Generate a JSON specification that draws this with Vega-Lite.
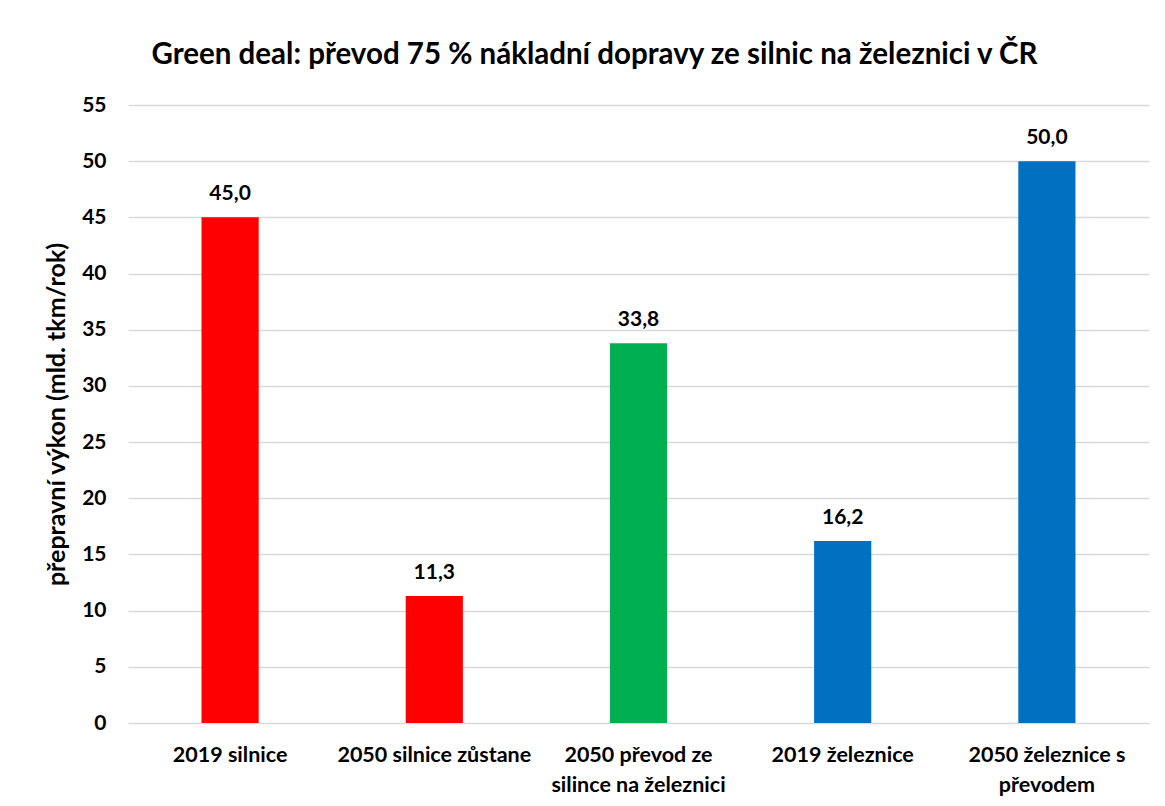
{
  "$schema": "https://vega.github.io/schema/vega-lite/v6.json",
  "autosize": "none",
  "width": 1021,
  "height": 618,
  "padding": {"left": 128, "top": 105, "right": 16, "bottom": 83},
  "background": "white",
  "title": {
    "text": "Green deal: převod 75 % nákladní dopravy ze silnic na železnici v ČR",
    "font": "Lato",
    "fontSize": 29.5,
    "fontWeight": "bold",
    "color": "#000000",
    "anchor": "middle",
    "dx": -44,
    "offset": 24
  },
  "data": {
    "values": [
      {"kategorie": "2019 silnice", "hodnota": 45.0, "barva": "silnice"},
      {"kategorie": "2050 silnice zůstane", "hodnota": 11.3, "barva": "silnice"},
      {"kategorie": "2050 převod ze|silince na železnici", "hodnota": 33.8, "barva": "prevod"},
      {"kategorie": "2019 železnice", "hodnota": 16.2, "barva": "zeleznice"},
      {"kategorie": "2050 železnice s|převodem", "hodnota": 50.0, "barva": "zeleznice"}
    ]
  },
  "encoding": {
    "x": {
      "field": "kategorie",
      "type": "nominal",
      "sort": null,
      "scale": {"paddingInner": 0.72, "paddingOuter": 0.36},
      "axis": {
        "title": null,
        "labelAngle": 0,
        "labelExpr": "split(datum.label, '|')",
        "labelFont": "Lato",
        "labelFontSize": 21.5,
        "labelFontWeight": "bold",
        "labelColor": "#000000",
        "labelPadding": 21,
        "labelLineHeight": 30,
        "labelLimit": 400,
        "labelOverlap": false,
        "ticks": false,
        "domain": false,
        "grid": false
      }
    },
    "y": {
      "field": "hodnota",
      "type": "quantitative",
      "scale": {"domain": [0, 55], "nice": false},
      "axis": {
        "title": "přepravní výkon (mld. tkm/rok)",
        "titleFont": "Lato",
        "titleFontSize": 25,
        "titleFontWeight": "bold",
        "titleColor": "#000000",
        "titlePadding": 12,
        "values": [0, 5, 10, 15, 20, 25, 30, 35, 40, 45, 50, 55],
        "labelFont": "Lato",
        "labelFontSize": 21,
        "labelFontWeight": "bold",
        "labelColor": "#000000",
        "labelPadding": 22,
        "ticks": false,
        "domain": false,
        "grid": true,
        "gridColor": "#D9D9D9",
        "gridWidth": 1.3
      }
    }
  },
  "layer": [
    {
      "mark": {"type": "bar"},
      "encoding": {
        "color": {
          "field": "barva",
          "type": "nominal",
          "scale": {"domain": ["silnice", "prevod", "zeleznice"], "range": ["#FF0000", "#00B050", "#0070C0"]},
          "legend": null
        }
      }
    },
    {
      "mark": {"type": "text", "font": "Lato", "fontSize": 21, "fontWeight": "bold", "color": "#000000", "baseline": "alphabetic", "dy": -17},
      "encoding": {
        "text": {"field": "hodnota", "type": "quantitative", "format": ".1f"}
      }
    }
  ],
  "config": {
    "view": {"stroke": null},
    "locale": {"number": {"decimal": ",", "thousands": " ", "grouping": [3], "currency": ["", ""]}}
  }
}
